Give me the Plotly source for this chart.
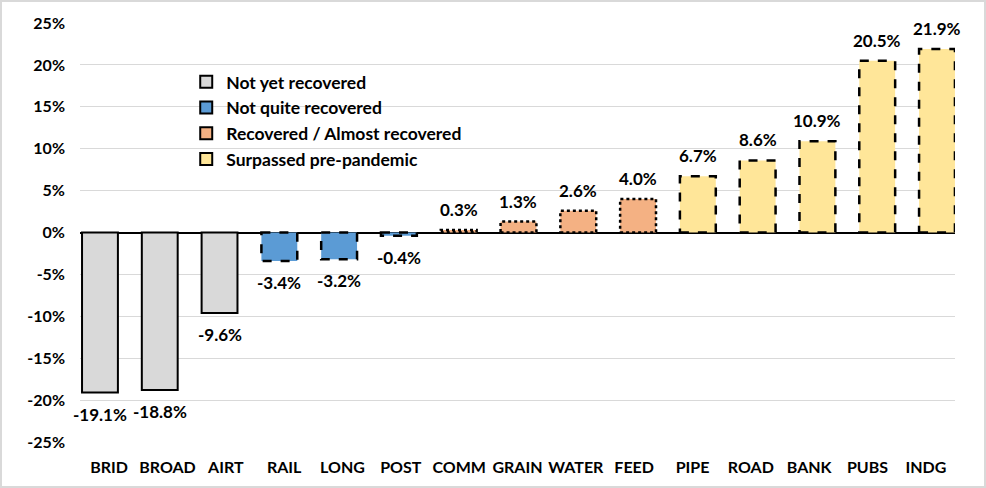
import plotly.graph_objects as go

categories = ["BRID", "BROAD", "AIRT", "RAIL", "LONG", "POST", "COMM", "GRAIN",
              "WATER", "FEED", "PIPE", "ROAD", "BANK", "PUBS", "INDG"]
values_pct = [-19.1, -18.8, -9.6, -3.4, -3.2, -0.4, 0.3, 1.3, 2.6, 4.0, 6.7, 8.6, 10.9, 20.5, 21.9]
groups = [0, 0, 0, 1, 1, 1, 2, 2, 2, 2, 3, 3, 3, 3, 3]
group_names = ["Not yet recovered", "Not quite recovered",
               "Recovered / Almost recovered", "Surpassed pre-pandemic"]
group_fill = ["#d9d9d9", "#5b9bd5", "#f4b183", "#ffe699"]
group_dash = ["solid", "dash", "dot", "dash"]
y_tickvals = [-0.25, -0.20, -0.15, -0.10, -0.05, 0, 0.05, 0.10, 0.15, 0.20, 0.25]
y_ticktext = ["-25%", "-20%", "-15%", "-10%", "-5%", "0%", "5%", "10%", "15%", "20%", "25%"]

W, H = 986, 488
ML, MR, MT, MB = 80, 31, 23, 46
PW, PH = W - ML - MR, H - MT - MB

FONT = "Lato"
fig = go.Figure()

xs = list(range(len(categories)))
vals = [v / 100 for v in values_pct]
labels = [f"{v:.1f}%" for v in values_pct]

# invisible trace so the category-label axis is drawn
fig.add_trace(go.Scatter(x=xs, y=[None] * len(xs), xaxis="x", yaxis="y",
                         mode="markers", showlegend=False, hoverinfo="skip"))

fig.add_trace(go.Bar(
    x=xs, y=vals, xaxis="x2", yaxis="y",
    width=0.6,
    marker=dict(color=[group_fill[g] for g in groups], line=dict(width=0)),
    showlegend=False, hoverinfo="skip",
))

# data labels, placed on the data scales
annotations = []
for i, v in enumerate(vals):
    annotations.append(dict(
        xref="x2", yref="y", x=xs[i], y=v, text=labels[i], showarrow=False,
        yanchor="bottom" if v >= 0 else "top",
        yshift=8 if v >= 0 else -9,
        font=dict(family=FONT, size=17, color="#000000", weight="bold"),
    ))

# dummy legend entries
for gi, name in enumerate(group_names):
    fig.add_trace(go.Bar(
        x=[None], y=[None], xaxis="x2", yaxis="y", name=name,
        marker=dict(color=group_fill[gi], line=dict(color="#000000", width=2)),
        showlegend=True,
    ))

# dashed / dotted outlines drawn on the data scales
shapes = []
for i, v in enumerate(vals):
    g = groups[i]
    shapes.append(dict(
        type="rect", xref="x2", yref="y",
        x0=xs[i] - 0.3, x1=xs[i] + 0.3, y0=0, y1=v,
        line=dict(color="#000000", width=2.5 if g else 2, dash=group_dash[g]),
        fillcolor="rgba(0,0,0,0)", layer="above",
    ))
# outer chart border
shapes.append(dict(
    type="rect", xref="paper", yref="paper",
    x0=-(ML - 1) / PW, x1=1 + (MR - 1) / PW,
    y0=-(MB - 1) / PH, y1=1 + (MT - 1) / PH,
    line=dict(color="#d9d9d9", width=2), fillcolor="rgba(0,0,0,0)", layer="below",
))

fig.update_layout(
    width=W, height=H,
    margin=dict(l=ML, r=MR, t=MT, b=MB, pad=0),
    paper_bgcolor="white", plot_bgcolor="white",
    font=dict(family=FONT, size=15, color="#000000"),
    bargap=0.4,
    shapes=shapes,
    annotations=annotations,
    xaxis=dict(
        range=[-0.5, len(categories) - 0.5],
        tickmode="array", tickvals=xs, ticktext=categories,
        showgrid=False, zeroline=False, showline=False, ticks="",
        ticklabelstandoff=14,
        tickfont=dict(family=FONT, size=16, color="#000000", weight="bold"),
    ),
    xaxis2=dict(
        overlaying="x", range=[-0.334, 14.301], visible=False,
    ),
    yaxis=dict(
        range=[-0.25, 0.25],
        tickmode="array", tickvals=y_tickvals, ticktext=y_ticktext,
        showgrid=True, gridcolor="#d9d9d9", gridwidth=1,
        zeroline=True, zerolinecolor="#000000", zerolinewidth=2,
        showline=False, ticks="",
        ticklabelstandoff=14,
        tickfont=dict(family=FONT, size=16, color="#000000", weight="bold"),
    ),
    legend=dict(
        x=0.1214, xanchor="left", y=0.9025, yanchor="top",
        bgcolor="rgba(0,0,0,0)", borderwidth=0,
        font=dict(family=FONT, size=17.5, color="#000000", weight="bold"),
        tracegroupgap=0, itemwidth=30,
    ),
)

fig.write_html("out.html", config={"displayModeBar": False},
               post_script="document.body.style.margin='0px';")
